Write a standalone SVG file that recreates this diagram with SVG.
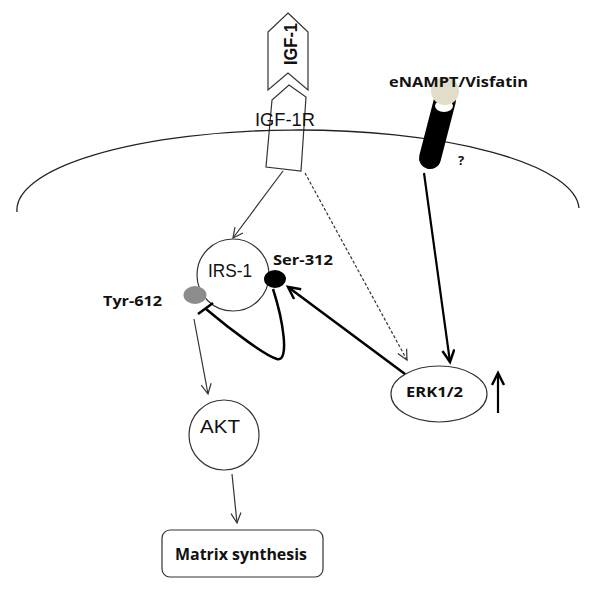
<svg xmlns="http://www.w3.org/2000/svg" width="600" height="602" viewBox="0 0 600 602">
<style>
.lbl{font-family:"Liberation Sans",Arial,sans-serif;fill:#111}
.b{font-family:"Open Sans","Liberation Sans",Arial,sans-serif;font-weight:bold}
.node{fill:#fff;stroke:#333;stroke-width:1.2}
.thin{fill:none;stroke:#333;stroke-width:1.2}
.thick{fill:none;stroke:#000;stroke-width:2.5}
</style>
<defs>
<marker id="aThin" markerUnits="userSpaceOnUse" markerWidth="14" markerHeight="14" refX="11" refY="6" orient="auto">
<path d="M1,1 L11,6 L1,11" fill="none" stroke="#333" stroke-width="1.2"/>
</marker>
<marker id="aThick" markerUnits="userSpaceOnUse" markerWidth="16" markerHeight="16" refX="13" refY="7" orient="auto">
<path d="M1,1 L13,7 L1,13" fill="none" stroke="#000" stroke-width="2.5"/>
</marker>
</defs>
<rect width="600" height="602" fill="#fff"/>
<g id="igf1">
<polygon class="node" points="288,13 308,32 308,90 288,73 268,90 268,32"/>
<text class="lbl" font-size="18" font-weight="bold" text-anchor="middle" textLength="42" lengthAdjust="spacingAndGlyphs" transform="translate(297,44) rotate(-90)">IGF-1</text>
</g>
<g id="igf1r">
<polygon class="node" points="289,85 306,97 301,171 266,167 272,100"/>
<text class="lbl" x="255" y="126" font-size="19" textLength="60" lengthAdjust="spacingAndGlyphs">IGF-1R</text>
</g>
<g id="membrane">
<path d="M17,212 A281,80 0 0 1 579,208" fill="none" stroke="#222" stroke-width="1.3"/>
</g>
<g id="visfatin">
<line x1="445" y1="100" x2="430" y2="158" stroke="#000" stroke-width="22" stroke-linecap="round"/>
<ellipse cx="444" cy="106" rx="9" ry="6" fill="#fff"/>
<circle cx="445" cy="91" r="14" fill="#e2ddc9"/>
<text class="lbl b" x="389" y="87" font-size="15" textLength="139" lengthAdjust="spacingAndGlyphs">eNAMPT/Visfatin</text>
<text class="lbl b" x="458" y="165" font-size="13">?</text>
</g>
<g id="irs1">
<circle class="node" cx="233" cy="275" r="36"/>
<text class="lbl" x="208" y="277" font-size="18" textLength="44" lengthAdjust="spacingAndGlyphs">IRS-1</text>
</g>
<g id="ser312">
<ellipse cx="275" cy="279" rx="11" ry="9" fill="#000"/>
<text class="lbl b" x="273" y="265" font-size="15" textLength="60" lengthAdjust="spacingAndGlyphs">Ser-312</text>
</g>
<g id="tyr612">
<ellipse cx="195" cy="295" rx="11.5" ry="9" fill="#8c8c8c"/>
<text class="lbl b" x="103" y="306" font-size="15" textLength="59" lengthAdjust="spacingAndGlyphs">Tyr-612</text>
</g>
<g id="akt">
<circle class="node" cx="224" cy="435" r="35"/>
<text class="lbl" x="200" y="433" font-size="19" textLength="40" lengthAdjust="spacingAndGlyphs">AKT</text>
</g>
<g id="erk">
<ellipse class="node" cx="439" cy="394" rx="48" ry="28"/>
<text class="lbl b" x="406" y="397" font-size="15" textLength="57" lengthAdjust="spacingAndGlyphs">ERK1/2</text>
</g>
<g id="matrix">
<rect class="node" x="162" y="530" width="161" height="47" rx="8"/>
<text class="lbl b" x="175" y="560" font-size="16" textLength="132" lengthAdjust="spacingAndGlyphs">Matrix synthesis</text>
</g>
<g id="connectors">
<line class="thin" x1="283" y1="171" x2="233" y2="238" marker-end="url(#aThin)"/>
<line class="thin" x1="305" y1="173" x2="407" y2="360" stroke-dasharray="3,2" marker-end="url(#aThin)"/>
<line x1="424" y1="173" x2="450" y2="362" stroke="#000" stroke-width="2.2" marker-end="url(#aThick)"/>
<line class="thick" x1="405" y1="374" x2="288" y2="287" marker-end="url(#aThick)"/>
<path class="thick" d="M273,289 C283,320 290,362 277,359 C266,356 232,331 206,309"/>
<line x1="198" y1="314" x2="213" y2="303" stroke="#000" stroke-width="2.5"/>
<line class="thin" x1="194" y1="319" x2="208" y2="394" marker-end="url(#aThin)"/>
<line class="thin" x1="232" y1="474" x2="237" y2="523" marker-end="url(#aThin)"/>
<line x1="498" y1="413" x2="498" y2="373" stroke="#000" stroke-width="2.2" marker-end="url(#aThick)"/>
</g>
</svg>
